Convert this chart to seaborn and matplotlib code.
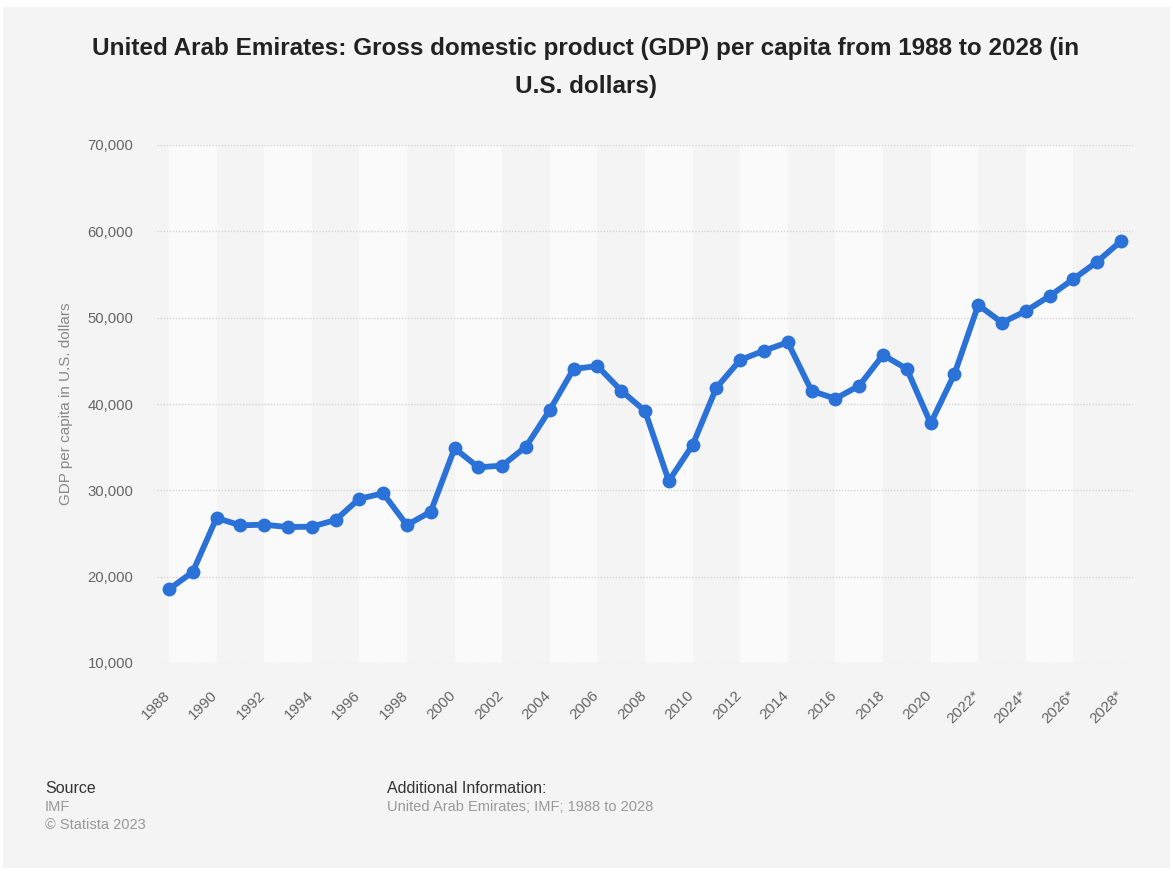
import matplotlib
matplotlib.use("Agg")
import matplotlib.pyplot as plt
import matplotlib.transforms as mtransforms
import seaborn as sns
import pandas as pd
from matplotlib.patches import Rectangle

years = list(range(1988, 2029))
gdp_per_capita = [18540, 20540, 26800, 25950, 26020, 25750, 25790, 26560, 29030, 29650,
                  25980, 27530, 34870, 32670, 32860, 35060, 39310, 44060, 44400, 41550,
                  39190, 31080, 35250, 41890, 45100, 46180, 47140, 41510, 40620, 42120,
                  45680, 44060, 37760, 43480, 51470, 49420, 50770, 52510, 54480, 56490,
                  58880]
projection_start = 2022
tick_years = list(range(1988, 2029, 2))
tick_labels = [f"{y}*" if y >= projection_start else str(y) for y in tick_years]
y_ticks = [10000, 20000, 30000, 40000, 50000, 60000, 70000]

df = pd.DataFrame({"year": years, "gdp": gdp_per_capita})

sns.set_theme(style="white")
plt.rcParams['font.family'] = ['Liberation Sans', 'DejaVu Sans']

W, H = 1173, 871
fig = plt.figure(figsize=(W / 100, H / 100), dpi=100)
fig.patch.set_facecolor("white")
fig.patches.append(Rectangle((3 / W, 3 / H), 1 - 6 / W, 1 - 10 / H, transform=fig.transFigure,
                             facecolor="#f4f4f4", edgecolor="none", zorder=-10))

ax = fig.add_axes([157 / W, 1 - 663 / H, (1133 - 157) / W, (663 - 145) / H])
ax.set_facecolor("none")

# alternating bands
for y0 in range(1988, 2028, 4):
    ax.axvspan(y0, y0 + 2, color="#fafafa", zorder=0, lw=0)

for yt in y_ticks:
    ax.axhline(yt, color="#d4d4d4", lw=1.0, ls=(0, (1, 1.2)), zorder=1)

sns.lineplot(data=df, x="year", y="gdp", ax=ax, color="#2a72d8", linewidth=4.2,
             marker="o", markersize=10, markeredgewidth=0, zorder=3)

ax.set_xlim(1987.5, 2028.5)
ax.set_ylim(10000, 70000)
ax.set_xticks(tick_years)
ax.set_xticklabels(tick_labels, rotation=45, ha="right", va="top")
ax.set_yticks(y_ticks)
ax.set_yticklabels([f"{v:,}" for v in y_ticks])
ax.tick_params(axis="both", length=0, colors="#666666")
ax.tick_params(axis="x", pad=18, labelsize=11)
ax.tick_params(axis="y", pad=17, labelsize=10.7)
shift = mtransforms.ScaledTranslation(4 / 100, 0, fig.dpi_scale_trans)
for lbl in ax.get_xticklabels():
    lbl.set_transform(lbl.get_transform() + shift)
for s in ax.spines.values():
    s.set_visible(False)
ax.grid(False)
ax.set_xlabel("")
ax.set_ylabel("GDP per capita in U.S. dollars", color="#888888", fontsize=11)
ax.yaxis.set_label_coords(-0.086, 0.5)

title_kw = dict(ha="center", va="center", fontsize=17.5, fontweight="bold", color="#222222")
fig.text(586 / W, 1 - 48 / H,
         "United Arab Emirates: Gross domestic product (GDP) per capita from 1988 to 2028 (in", **title_kw)
fig.text(586 / W, 1 - 86 / H, "U.S. dollars)", **title_kw)

fig.text(45 / W, 1 - 788 / H, "Source", ha="left", va="center", fontsize=11.5, color="#333333")
fig.text(45 / W, 1 - 807 / H, "IMF", ha="left", va="center", fontsize=10.5, color="#999999")
fig.text(45 / W, 1 - 825 / H, "© Statista 2023", ha="left", va="center", fontsize=10.5, color="#999999")
fig.text(387 / W, 1 - 788 / H, "Additional Information:", ha="left", va="center", fontsize=11.5,
         color="#333333")
fig.text(387 / W, 1 - 807 / H, "United Arab Emirates; IMF; 1988 to 2028", ha="left", va="center",
         fontsize=10.5, color="#999999")

fig.savefig("out.png", dpi=100, facecolor=fig.get_facecolor())
